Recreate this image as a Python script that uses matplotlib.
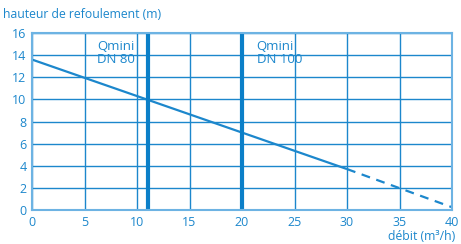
import matplotlib
matplotlib.use('Agg')
import matplotlib.pyplot as plt

# courbe (débit m3/h, hauteur m)
solid_q = [0, 30]
solid_h = [13.6, 3.7]
dash_q = [30, 40]
dash_h = [3.7, 0.25]

qmini_q = [11, 20]
qmini_labels = ['Qmini\nDN 80', 'Qmini\nDN 100']
qmini_text_q = [6.2, 21.4]

xticks = [0, 5, 10, 15, 20, 25, 30, 35, 40]
yticks = [0, 2, 4, 6, 8, 10, 12, 14, 16]

blue = '#1c87cc'
plt.rcParams['font.family'] = ['Open Sans', 'DejaVu Sans']

fig = plt.figure(figsize=(4.61, 2.44), dpi=100)
ax = fig.add_axes([32/461, 34/244, 420/461, 177/244])

ax.set_xlim(0, 40)
ax.set_ylim(0, 16)
ax.set_xticks(xticks)
ax.set_yticks(yticks)
ax.grid(True, color=blue, linewidth=1.0)
ax.set_axisbelow(True)
for s in ax.spines.values():
    s.set_color('#6db3e3')
    s.set_linewidth(1.5)
ax.tick_params(length=0, colors=blue, labelsize=9, pad=4)

ax.plot(solid_q, solid_h, color=blue, linewidth=1.6, solid_capstyle='butt')
ax.plot(dash_q, dash_h, color=blue, linewidth=1.6, linestyle=(0, (4, 3)))

for q, lab, tq in zip(qmini_q, qmini_labels, qmini_text_q):
    ax.axvline(q, color='#0b7fc8', linewidth=3)
    ax.text(tq, 15.4, lab, color=blue, fontsize=9.5, va='top', ha='left', linespacing=1.05)

fig.text(3/461, 1 - 14/244, 'hauteur de refoulement (m)', color=blue, fontsize=8.8, va='center', ha='left')
fig.text(455/461, 1 - 237/244, 'débit (m³/h)', color=blue, fontsize=8.8, va='center', ha='right')

fig.savefig('out.png', dpi=100)
